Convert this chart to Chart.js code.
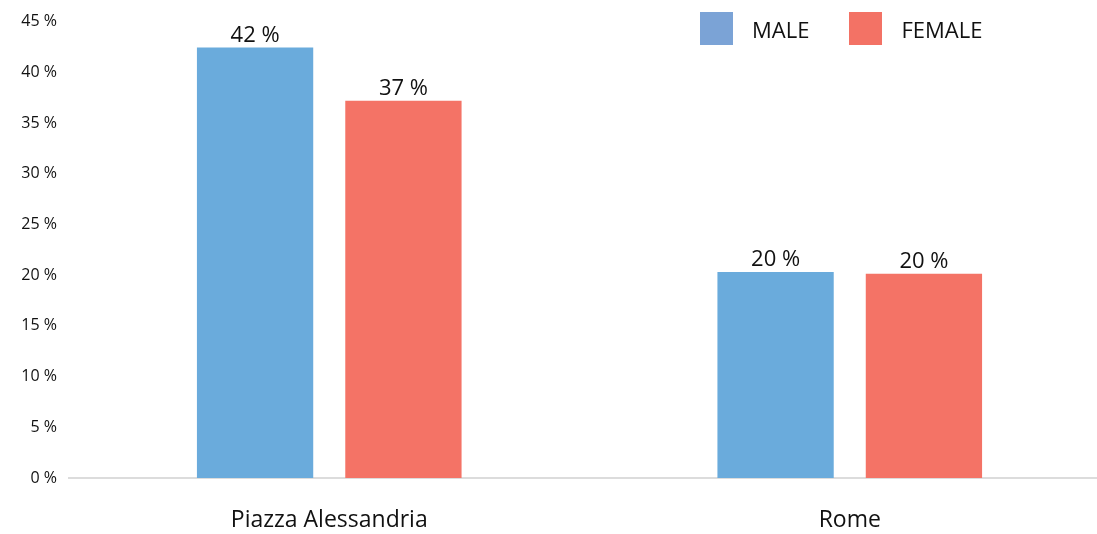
<!DOCTYPE html>
<html>
<head>
    <meta charset="UTF-8">
    <title>Male / Female chart</title>
    <script src="https://cdn.jsdelivr.net/npm/chart.js"></script>
    <style>
        html, body { margin: 0; padding: 0; background: #fff; overflow: hidden; }
        #wrap { position: relative; width: 1110px; height: 534px; }
        #legend { position: absolute; left: 700px; top: 12px; display: flex; font-family: "Open Sans", sans-serif; font-size: 22px; color: #111; }
        #legend .item { display: flex; align-items: center; margin-right: 40px; }
        #legend .box { width: 33px; height: 33px; margin-right: 19px; }
    </style>
</head>
<body>
<div id="wrap">
    <canvas id="myChart"></canvas>
    <div id="legend"></div>
</div>

<script>
    const labels = ['Piazza Alessandria', 'Rome'];
    const maleValues = [42.45, 20.3];
    const femaleValues = [37.2, 20.15];
    const yTicks = [0, 5, 10, 15, 20, 25, 30, 35, 40, 45];

    const blue = '#6aabdc';
    const red = '#f47366';
    const legendColors = ['#7ba3d6', '#f37265'];

    Chart.defaults.font.family = '"Open Sans", sans-serif';
    Chart.defaults.color = '#111';

    // value labels above the bars
    const barLabels = {
        id: 'barLabels',
        afterDatasetsDraw(chart) {
            const ctx = chart.ctx;
            ctx.save();
            ctx.font = '22px "Open Sans", sans-serif';
            ctx.fillStyle = '#111';
            ctx.textAlign = 'center';
            ctx.textBaseline = 'bottom';
            chart.data.datasets.forEach((ds, i) => {
                chart.getDatasetMeta(i).data.forEach((bar, j) => {
                    ctx.fillText(Math.round(ds.data[j]) + ' %', bar.x, bar.y - 1);
                });
            });
            ctx.restore();
        }
    };

    const data = {
        labels: labels,
        datasets: [
            { label: 'MALE', data: maleValues, backgroundColor: blue },
            { label: 'FEMALE', data: femaleValues, backgroundColor: red }
        ]
    };

    const config = {
        type: 'bar',
        data: data,
        options: {
            responsive: true,
            maintainAspectRatio: false,
            animation: false,
            layout: { padding: { top: 16, left: 0, right: 0, bottom: 0 } },
            datasets: {
                bar: { categoryPercentage: 0.57, barPercentage: 0.784 }
            },
            plugins: {
                legend: { display: false },
                tooltip: { enabled: false }
            },
            scales: {
                x: {
                    afterFit: (scale) => { scale.height = 56; },
                    grid: { display: false, drawTicks: false },
                    border: { display: true, color: '#dcdcdc', width: 2 },
                    ticks: { padding: 29, font: { size: 23 }, color: '#111' }
                },
                y: {
                    min: 0,
                    max: 45,
                    afterBuildTicks: (scale) => {
                        scale.ticks = yTicks.map(v => ({ value: v }));
                    },
                    afterFit: (scale) => { scale.width = 69; },
                    grid: { display: false, drawTicks: false },
                    border: { display: false },
                    ticks: {
                        padding: 12,
                        font: { size: 16 },
                        color: '#111',
                        callback: (v) => v + ' %'
                    }
                }
            }
        },
        plugins: [barLabels]
    };

    const chart = new Chart(document.getElementById('myChart'), config);

    const legend = document.getElementById('legend');
    data.datasets.forEach((ds, i) => {
        const item = document.createElement('div');
        item.className = 'item';
        const box = document.createElement('span');
        box.className = 'box';
        box.style.background = legendColors[i];
        const text = document.createElement('span');
        text.textContent = ds.label;
        item.appendChild(box);
        item.appendChild(text);
        legend.appendChild(item);
    });
</script>
</body>
</html>
